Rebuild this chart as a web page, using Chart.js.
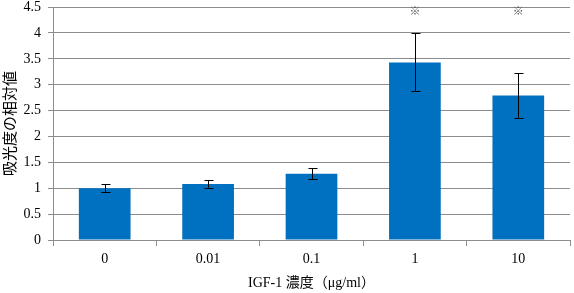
<!DOCTYPE html>
<html>
<head>
<meta charset="utf-8">
<script src="https://cdn.jsdelivr.net/npm/chart.js@4/dist/chart.umd.min.js"></script>
<style>
html,body{margin:0;padding:0;background:#fff;}
#wrap{width:574px;height:293px;}
</style>
</head>
<body>
<div id="wrap"><canvas id="c" width="574" height="293"></canvas></div>
<script>
const categories = ["0", "0.01", "0.1", "1", "10"];
const values = [1.00, 1.08, 1.28, 3.43, 2.79];
const errors = [0.08, 0.07, 0.11, 0.56, 0.43];
const marks = ["", "", "", "※", "※"];
const markLevel = 4.4;
const yTicks = [0, 0.5, 1, 1.5, 2, 2.5, 3, 3.5, 4, 4.5];

const serif = "'Liberation Serif', 'Times New Roman', serif";
const cjkSerif = "'Liberation Serif', 'Noto Sans CJK JP', serif";

const errorBarPlugin = {
  id: 'errorBars',
  afterDatasetsDraw(chart) {
    const ctx = chart.ctx;
    const meta = chart.getDatasetMeta(0);
    const y = chart.scales.y;
    ctx.save();
    ctx.strokeStyle = '#000';
    ctx.lineWidth = 1;
    meta.data.forEach((bar, i) => {
      const x = Math.round(bar.x) + 0.5;
      const top = y.getPixelForValue(values[i] + errors[i]);
      const bot = y.getPixelForValue(values[i] - errors[i]);
      ctx.beginPath();
      ctx.moveTo(x, top); ctx.lineTo(x, bot);
      ctx.moveTo(x - 4, Math.round(top) + 0.5); ctx.lineTo(x + 5, Math.round(top) + 0.5);
      ctx.moveTo(x - 4, Math.round(bot) + 0.5); ctx.lineTo(x + 5, Math.round(bot) + 0.5);
      ctx.stroke();
      if (marks[i]) {
        ctx.fillStyle = '#555';
        ctx.font = "11px " + cjkSerif;
        ctx.textAlign = 'center';
        ctx.textBaseline = 'middle';
        ctx.fillText(marks[i], bar.x, y.getPixelForValue(markLevel));
      }
    });
    ctx.restore();
  }
};

new Chart(document.getElementById('c'), {
  type: 'bar',
  data: {
    labels: categories,
    datasets: [{
      data: values,
      backgroundColor: '#0070C0',
      borderWidth: 0,
      categoryPercentage: 1.0,
      barPercentage: 0.5
    }]
  },
  options: {
    responsive: false,
    animation: false,
    devicePixelRatio: 1,
    layout: { padding: { top: 0, right: 4, left: 3, bottom: 3 } },
    plugins: { legend: { display: false }, tooltip: { enabled: false } },
    scales: {
      x: {
        grid: { display: true, offset: true, drawOnChartArea: false, color: '#8c8c8c', tickLength: 6 },
        border: { color: '#8c8c8c' },
        ticks: { color: '#000', font: { family: serif, size: 14, lineHeight: 1.0 }, padding: 6 },
        title: { display: true, text: 'IGF-1 濃度（μg/ml）', color: '#000', font: { family: cjkSerif, size: 14, lineHeight: 1.0 }, padding: { top: 4, bottom: 0 } }
      },
      y: {
        min: 0, max: 4.5,
        afterBuildTicks(scale) { scale.ticks = yTicks.map(v => ({ value: v })); },
        afterFit(scale) { scale.width = 50; },
        ticks: { color: '#000', font: { family: serif, size: 14, lineHeight: 0.01 }, padding: 7, callback: v => String(v) },
        grid: { color: '#8c8c8c', tickLength: 5 },
        border: { color: '#8c8c8c' },
        title: { display: true, text: '吸光度の相対値', color: '#000', font: { family: cjkSerif, size: 15, lineHeight: 1.0 }, padding: { top: 1, bottom: 2 } }
      }
    }
  },
  plugins: [errorBarPlugin]
});
</script>
</body>
</html>
